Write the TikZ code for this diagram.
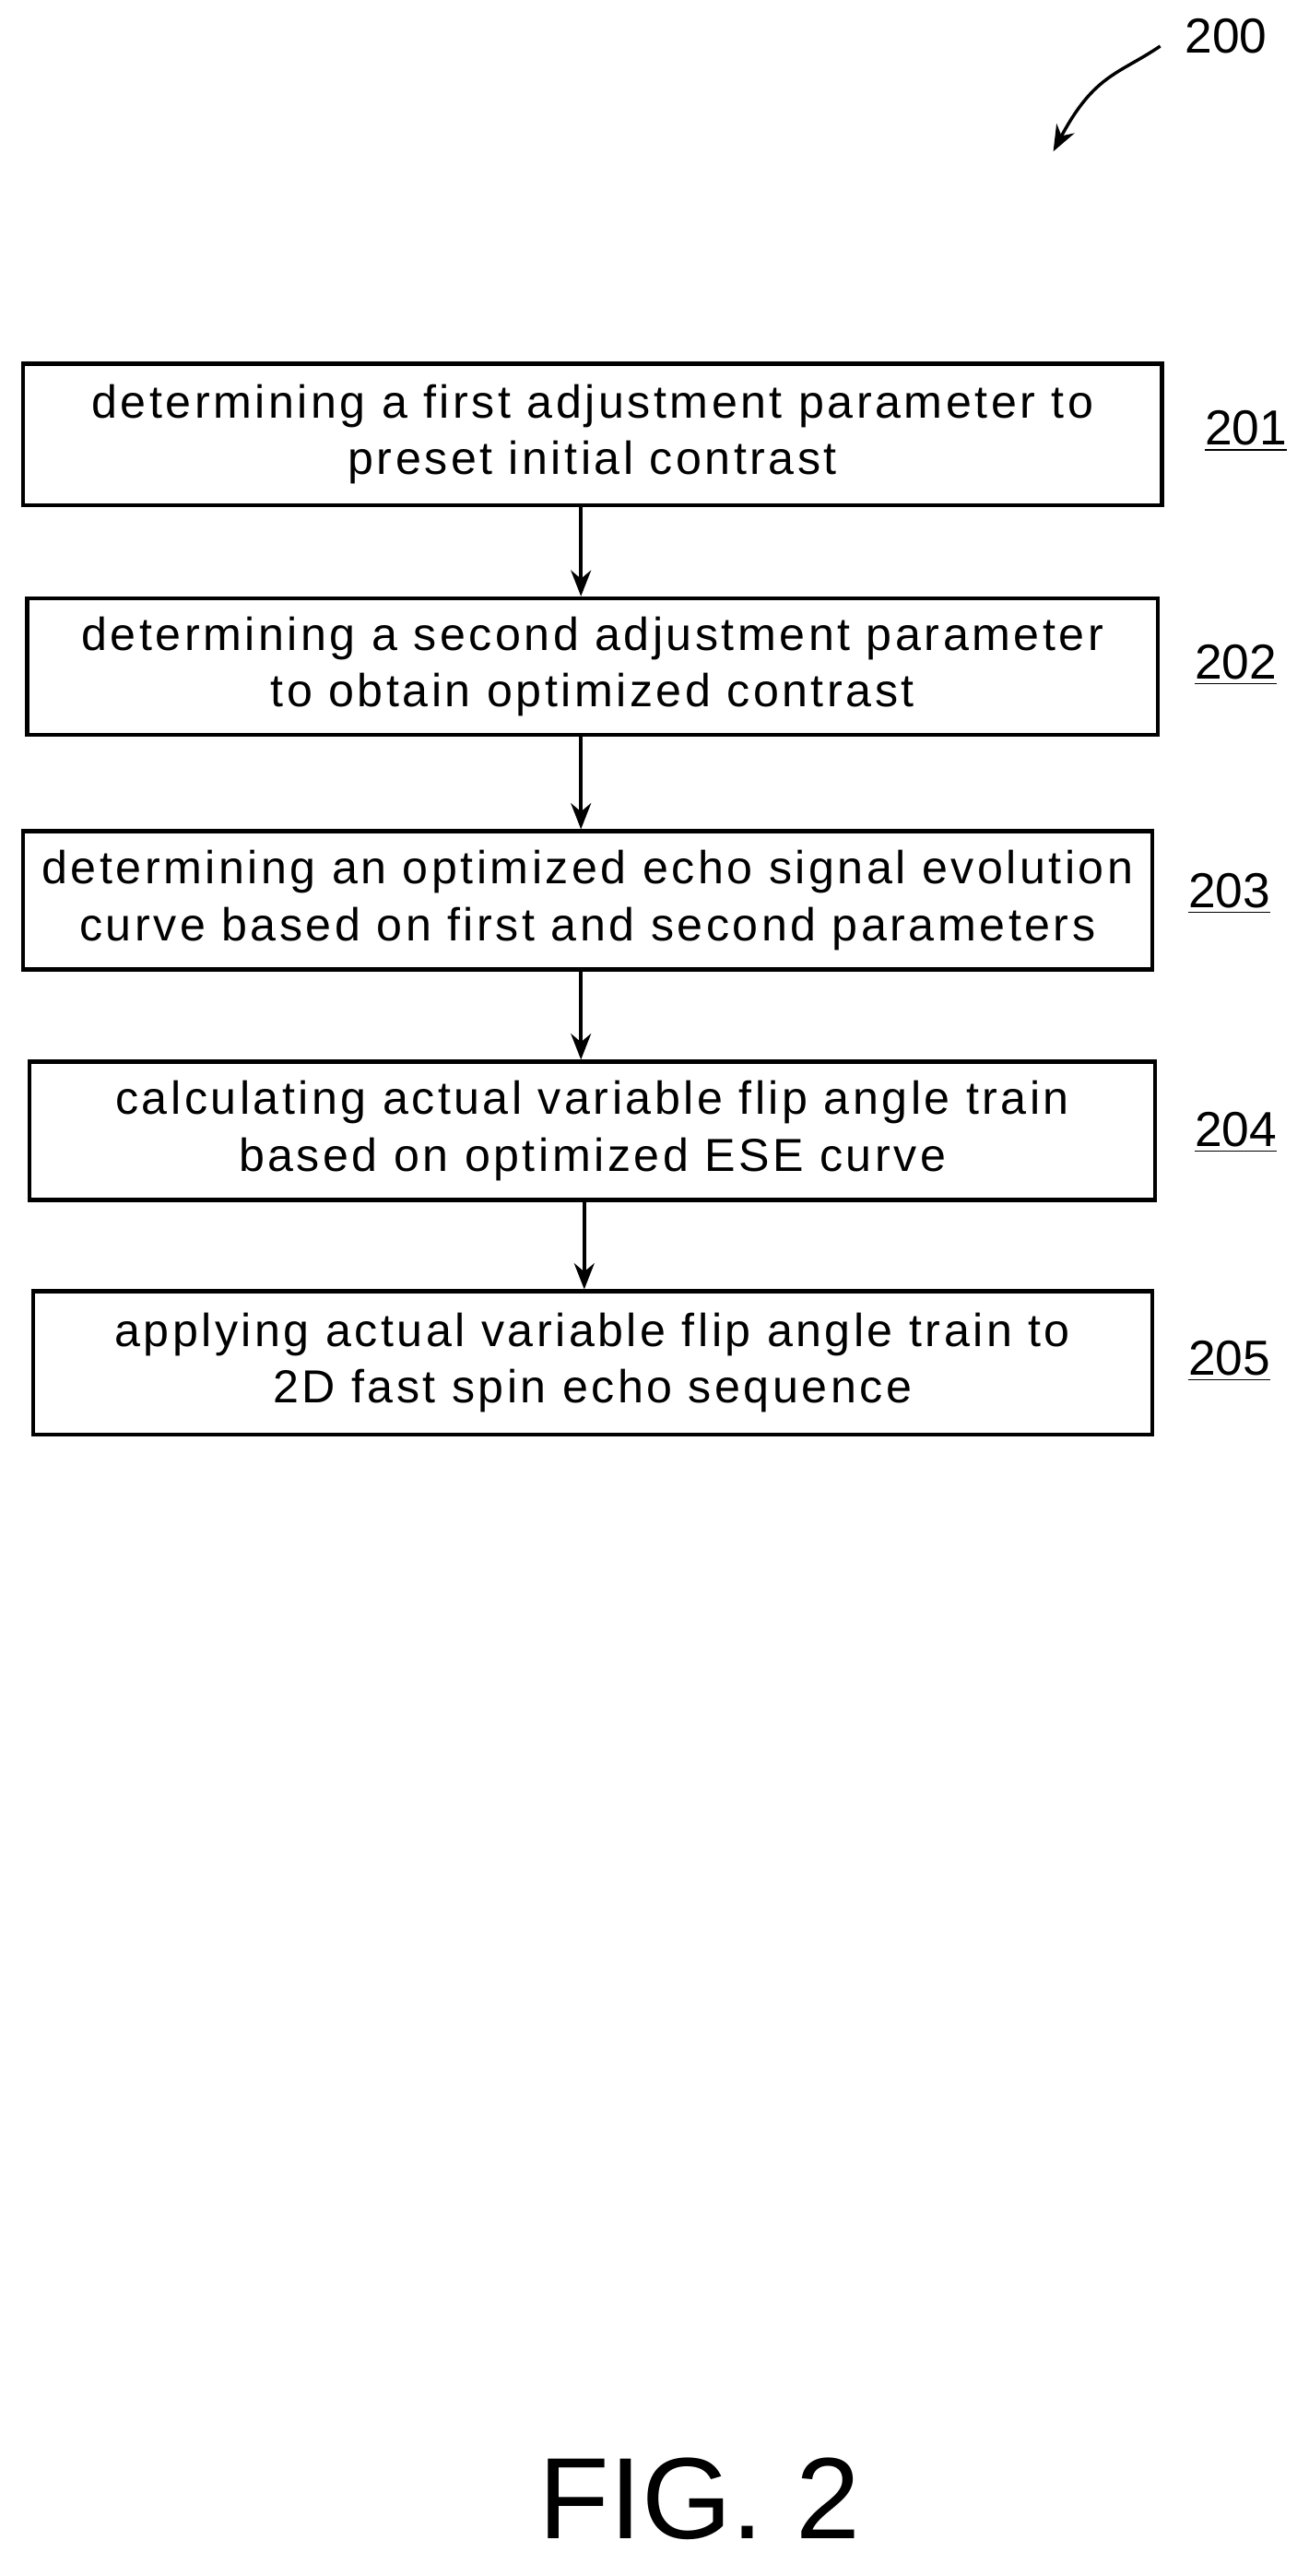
\documentclass[tikz,border=0pt]{standalone}
\usepackage{fontspec}
\setmainfont{Liberation Sans}
\newfontfamily\boxfont[LetterSpace=7]{Liberation Sans}
\usetikzlibrary{arrows.meta}

\begin{document}
\begin{tikzpicture}[x=0.02cm, y=-0.02cm,
    stepbox/.style={draw, line width=1.4pt, inner sep=0pt, align=center,
        font=\boxfont\fontsize{16}{19.5}\selectfont},
    reflabel/.style={font=\fontsize{17}{20}\selectfont},
    flow/.style={-{Stealth[length=9pt,width=7pt]}, line width=1.1pt}]
    % Fix the page
    \useasboundingbox (0,0) rectangle (795,1565);

    % Reference numeral of the figure
    \node[reflabel] (fig) at (745,22) {200};
    \coordinate (tip) at (640,92);
    \draw[flow] (705,28) .. controls (680,45) and (665,45) .. (tip);

    % Steps
    \node[stepbox, minimum width=692*0.02cm, minimum height=86*0.02cm] (b1) at (360,264)
        {determining a first adjustment parameter to\\preset initial contrast};
    \node[stepbox, minimum width=687*0.02cm, minimum height=83*0.02cm] (b2) at (360,405)
        {determining a second adjustment parameter\\to obtain optimized contrast};
    \node[stepbox, minimum width=686*0.02cm, minimum height=84*0.02cm] (b3) at (357,547)
        {determining an optimized echo signal evolution\\curve based on first and second parameters};
    \node[stepbox, minimum width=684*0.02cm, minimum height=84*0.02cm] (b4) at (360,687)
        {calculating actual variable flip angle train\\based on optimized ESE curve};
    \node[stepbox, minimum width=680*0.02cm, minimum height=87*0.02cm] (b5) at (360,828)
        {applying actual variable flip angle train to\\2D fast spin echo sequence};

    % Step numerals
    \node[reflabel] (n1) at (757,262) {\underline{201}};
    \node[reflabel] (n2) at (751,404) {\underline{202}};
    \node[reflabel] (n3) at (747,543) {\underline{203}};
    \node[reflabel] (n4) at (751,688) {\underline{204}};
    \node[reflabel] (n5) at (747,827) {\underline{205}};

    % Connectors
    \draw[flow] (b1.south -| 353,0) -- (b2.north -| 353,0);
    \draw[flow] (b2.south -| 353,0) -- (b3.north -| 353,0);
    \draw[flow] (b3.south -| 353,0) -- (b4.north -| 353,0);
    \draw[flow] (b4.south -| 355,0) -- (b5.north -| 355,0);

    % Caption
    \node[font=\fontsize{40}{44}\selectfont] (cap) at (425,1518) {FIG. 2};
\end{tikzpicture}
\end{document}
